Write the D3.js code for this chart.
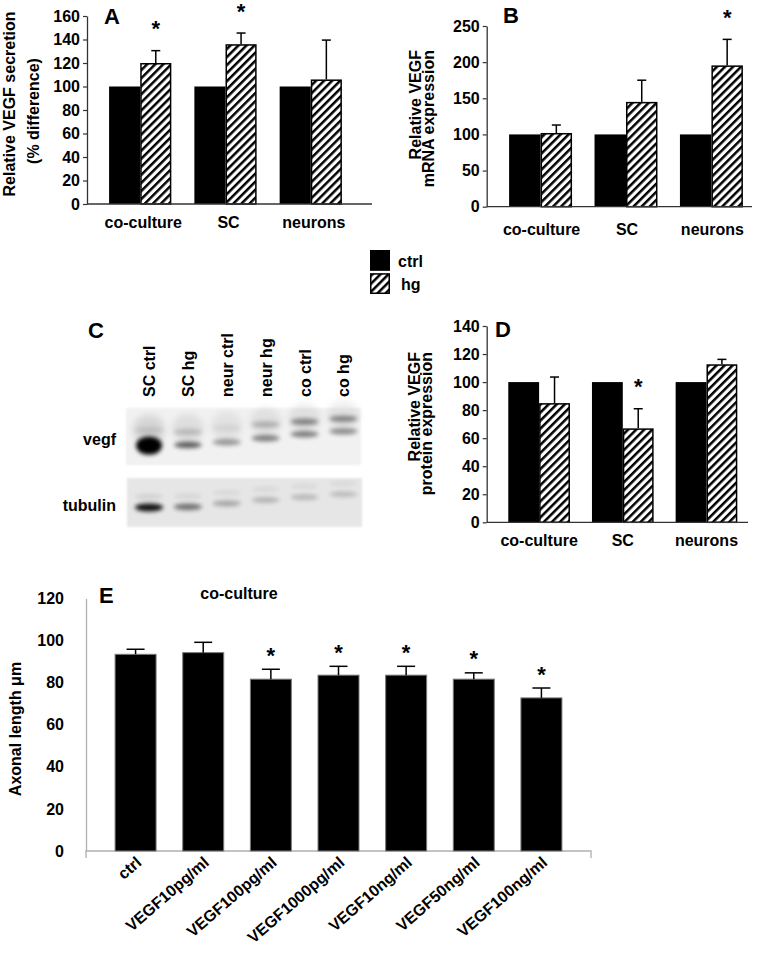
<!DOCTYPE html>
<html><head><meta charset="utf-8">
<script src="https://cdn.jsdelivr.net/npm/d3@7"></script>
<style>
body{margin:0;background:#fff;}
svg{display:block;font-family:"Liberation Sans",Arial,sans-serif;font-weight:bold;}
</style></head><body>
<svg id="fig" width="757" height="953"></svg>
<script>
// ---------- DATA ----------
const groups = ["co-culture", "SC", "neurons"];
const series = ["ctrl", "hg"];

// Panel A: Relative VEGF secretion (% difference)
const secretionCtrl = [100, 100, 100];
const secretionHg = [120, 136, 106];
const secretionHgErr = [10.5, 9.5, 33.5];
const secretionSig = [true, true, false];
const secretionTicks = [0, 20, 40, 60, 80, 100, 120, 140, 160];

// Panel B: Relative VEGF mRNA expression
const mrnaCtrl = [100, 100, 100];
const mrnaHg = [102, 145, 195.5];
const mrnaHgErr = [11, 30, 36];
const mrnaSig = [false, false, true];
const mrnaTicks = [0, 50, 100, 150, 200, 250];

// Panel C: western blot
const lanes = ["SC ctrl", "SC hg", "neur ctrl", "neur hg", "co ctrl", "co hg"];
const vegfLowerIntensity = [1.0, 0.6, 0.36, 0.46, 0.46, 0.4];
const vegfLowerRf = [0.66, 0.65, 0.6, 0.53, 0.46, 0.41];
const vegfUpperIntensity = [0.1, 0.16, 0.06, 0.22, 0.42, 0.42];
const vegfUpperRf = [0.39, 0.42, 0.35, 0.29, 0.24, 0.19];
const tubulinIntensity = [0.92, 0.5, 0.28, 0.22, 0.2, 0.18];
const tubulinRf = [0.6, 0.59, 0.52, 0.45, 0.39, 0.33];

// Panel D: Relative VEGF protein expression
const proteinCtrl = [100, 100, 100];
const proteinHg = [85, 67, 112.7];
const proteinHgErr = [18.6, 14, 3.5];
const proteinSig = [false, true, false];
const proteinTicks = [0, 20, 40, 60, 80, 100, 120, 140];

// Panel E: Axonal length (co-culture)
const treatments = ["ctrl", "VEGF10pg/ml", "VEGF100pg/ml", "VEGF1000pg/ml", "VEGF10ng/ml", "VEGF50ng/ml", "VEGF100ng/ml"];
const axonLength = [93.4, 94.2, 81.6, 83.5, 83.5, 81.6, 72.7];
const axonErr = [2.4, 4.9, 4.7, 4.2, 4.2, 3.0, 4.7];
const axonSig = [false, false, true, true, true, true, true];
const axonTicks = [0, 20, 40, 60, 80, 100, 120];

// ---------- SETUP ----------
const svg = d3.select("#fig");
const defs = svg.append("defs");
const pat = defs.append("pattern").attr("id", "hatch")
  .attr("patternUnits", "userSpaceOnUse").attr("width", 5.7).attr("height", 5.7)
  .attr("patternTransform", "rotate(45)");
pat.append("rect").attr("width", 5.7).attr("height", 5.7).attr("fill", "#fff");
pat.append("rect").attr("width", 2.5).attr("height", 5.7).attr("fill", "#000");

function addBlur(id, sd) {
  defs.append("filter").attr("id", id).attr("x", "-60%").attr("y", "-150%")
    .attr("width", "220%").attr("height", "400%")
    .append("feGaussianBlur").attr("stdDeviation", sd);
}
addBlur("blur1", 1);
addBlur("blur2", 2.3);
addBlur("blur3", 3.5);

const FONT = '"Liberation Sans", Arial, sans-serif';

function styleAxis(sel, color) {
  sel.attr("font-family", FONT).attr("font-size", 16).attr("font-weight", "bold");
  sel.select(".domain").attr("stroke", color).attr("stroke-width", 1.3);
  sel.selectAll(".tick line").attr("stroke", color).attr("stroke-width", 1.2);
  sel.selectAll(".tick text").attr("fill", "#000");
}

function panelLetter(txt, x, y) {
  svg.append("text").attr("x", x).attr("y", y).attr("font-size", 22)
    .attr("font-weight", "bold").text(txt);
}

function yTitle(lines, baselinesX, ys, anchor) {
  lines.forEach((t, i) => {
    svg.append("text")
      .attr("transform", `translate(${baselinesX[i]},${ys[i]}) rotate(-90)`)
      .attr("text-anchor", anchor).attr("font-size", 16).text(t);
  });
}

function groupedPanel(o) {
  const g = svg.append("g");
  const x = d3.scaleBand().domain(groups).range(o.xRange).paddingInner(o.pi).paddingOuter(o.po);
  const xs = d3.scaleBand().domain(series).range([0, x.bandwidth()]);
  const y = d3.scaleLinear().domain(o.yDomain).range(o.yRange);
  const rows = groups.map((c, i) => ({ c, ctrl: o.ctrl[i], hg: o.hg[i], err: o.err[i], sig: o.sig[i] }));

  g.selectAll("rect.ctrl").data(rows).join("rect").attr("class", "ctrl")
    .attr("x", d => x(d.c) + xs("ctrl")).attr("y", d => y(d.ctrl))
    .attr("width", xs.bandwidth()).attr("height", d => y(0) - y(d.ctrl)).attr("fill", "#000");

  g.selectAll("rect.hg").data(rows).join("rect").attr("class", "hg")
    .attr("x", d => x(d.c) + xs("hg") + 0.75).attr("y", d => y(d.hg) + 0.75)
    .attr("width", xs.bandwidth() - 1.5).attr("height", d => y(0) - y(d.hg) - 0.75)
    .attr("fill", "url(#hatch)").attr("stroke", "#000").attr("stroke-width", 1.5);

  const cx = d => x(d.c) + xs("hg") + xs.bandwidth() / 2;
  g.selectAll("line.err").data(rows).join("line").attr("class", "err")
    .attr("x1", cx).attr("x2", cx).attr("y1", d => y(d.hg)).attr("y2", d => y(d.hg + d.err))
    .attr("stroke", "#000").attr("stroke-width", 1.5);
  g.selectAll("line.cap").data(rows).join("line").attr("class", "cap")
    .attr("x1", d => cx(d) - 4.5).attr("x2", d => cx(d) + 4.5)
    .attr("y1", d => y(d.hg + d.err)).attr("y2", d => y(d.hg + d.err))
    .attr("stroke", "#000").attr("stroke-width", 1.5);
  g.selectAll("text.ast").data(rows.filter(d => d.sig)).join("text").attr("class", "ast")
    .attr("x", cx).attr("y", d => y(d.hg + d.err) - 14.5)
    .attr("text-anchor", "middle").attr("font-size", 22).text("*");

  const ya = g.append("g").attr("transform", `translate(${o.axisX},0)`)
    .call(d3.axisLeft(y).tickValues(o.ticks).tickSize(4).tickSizeOuter(0).tickPadding(3));
  styleAxis(ya, "#333");

  const xa = g.append("g").attr("transform", `translate(0,${y(0)})`)
    .call(d3.axisBottom(x).tickSize(0).tickPadding(o.labelPad));
  styleAxis(xa, "#333");
  xa.select(".domain").attr("d", `M${o.axisX},0H${o.axisEnd}`);
  xa.selectAll(".tick text").attr("dx", o.labelDx || 0);
}

// ---------- PANEL A ----------
groupedPanel({
  xRange: [98, 353], pi: 0.27, po: 0.13, yDomain: [0, 160], yRange: [204, 16],
  ctrl: secretionCtrl, hg: secretionHg, err: secretionHgErr, sig: secretionSig,
  ticks: secretionTicks, axisX: 87, axisEnd: 372, labelPad: 12.5, labelDx: 3
});
panelLetter("A", 104, 23.5);
yTitle(["Relative VEGF secretion", "(% difference)"], [15, 39], [104, 111], "middle");

// ---------- PANEL B ----------
groupedPanel({
  xRange: [498, 754], pi: 0.263, po: 0.13, yDomain: [0, 250], yRange: [206.7, 26],
  ctrl: mrnaCtrl, hg: mrnaHg, err: mrnaHgErr, sig: mrnaSig,
  ticks: mrnaTicks, axisX: 486.7, axisEnd: 752, labelPad: 17, labelDx: 1
});
panelLetter("B", 503, 23);
yTitle(["Relative VEGF", "mRNA expression"], [421, 434], [50, 50], "end");

// ---------- LEGEND ----------
const leg = svg.append("g");
const legendItems = series.map(s => ({ s }));
const legY = d3.scaleBand().domain(series).range([250, 294]).paddingInner(0.1);
leg.selectAll("rect").data(legendItems).join("rect")
  .attr("x", d => d.s === "ctrl" ? 370 : 370.75)
  .attr("y", d => legY(d.s) + (d.s === "ctrl" ? 0 : 0.75))
  .attr("width", d => d.s === "ctrl" ? 20 : 18.5)
  .attr("height", d => legY.bandwidth() - (d.s === "ctrl" ? 0 : 1.5))
  .attr("fill", d => d.s === "ctrl" ? "#000" : "url(#hatch)")
  .attr("stroke", "#000").attr("stroke-width", d => d.s === "ctrl" ? 0 : 1.5);
leg.selectAll("text").data(legendItems).join("text")
  .attr("x", d => d.s === "ctrl" ? 398 : 401)
  .attr("y", d => legY(d.s) + legY.bandwidth() - 4)
  .attr("font-size", 16).text(d => d.s);

// ---------- PANEL C (blot) ----------
panelLetter("C", 88, 338);
const blot = svg.append("g");
const lane = d3.scaleBand().domain(lanes).range([129.6, 362.8]);
const vegfBox = { x0: 126, x1: 361, y0: 408, y1: 465 };
const tubBox = { x0: 127, x1: 362, y0: 478, y1: 527 };
const rfV = d3.scaleLinear().domain([0, 1]).range([vegfBox.y0, vegfBox.y1]);
const rfT = d3.scaleLinear().domain([0, 1]).range([tubBox.y0, tubBox.y1]);

blot.append("rect").attr("x", vegfBox.x0).attr("y", vegfBox.y0)
  .attr("width", vegfBox.x1 - vegfBox.x0).attr("height", vegfBox.y1 - vegfBox.y0)
  .attr("fill", "#f1f1f1").attr("filter", "url(#blur1)");
blot.append("rect").attr("x", tubBox.x0).attr("y", tubBox.y0)
  .attr("width", tubBox.x1 - tubBox.x0).attr("height", tubBox.y1 - tubBox.y0)
  .attr("fill", "#e6e6e6").attr("filter", "url(#blur1)");

const lc = l => lane(l) + lane.bandwidth() / 2;
// lane smear
blot.selectAll("ellipse.smear").data(lanes).join("ellipse").attr("class", "smear")
  .attr("cx", lc).attr("cy", (d, i) => rfV(vegfLowerRf[i] - 0.28))
  .attr("rx", 16).attr("ry", 15)
  .attr("fill", "#000").attr("opacity", (d, i) => 0.03 + vegfLowerIntensity[i] * 0.08)
  .attr("filter", "url(#blur3)");
// upper vegf bands
blot.selectAll("ellipse.vu").data(lanes).join("ellipse").attr("class", "vu")
  .attr("cx", lc).attr("cy", (d, i) => rfV(vegfUpperRf[i]))
  .attr("rx", 14).attr("ry", 3.2)
  .attr("fill", "#000").attr("opacity", (d, i) => vegfUpperIntensity[i])
  .attr("filter", "url(#blur2)");
// lower vegf bands
blot.selectAll("ellipse.vl").data(lanes).join("ellipse").attr("class", "vl")
  .attr("cx", lc).attr("cy", (d, i) => rfV(vegfLowerRf[i]))
  .attr("rx", (d, i) => 13 + 2 * (1 - vegfLowerIntensity[i]))
  .attr("ry", (d, i) => 3.2 + 6 * Math.max(0, vegfLowerIntensity[i] - 0.7) / 0.3)
  .attr("fill", "#000").attr("opacity", (d, i) => vegfLowerIntensity[i])
  .attr("filter", "url(#blur2)");
// tubulin faint upper bands
blot.selectAll("ellipse.tu").data(lanes).join("ellipse").attr("class", "tu")
  .attr("cx", lc).attr("cy", (d, i) => rfT(tubulinRf[i] - 0.22))
  .attr("rx", 14).attr("ry", 2.5)
  .attr("fill", "#000").attr("opacity", (d, i) => 0.05 + tubulinIntensity[i] * 0.05)
  .attr("filter", "url(#blur2)");
// tubulin bands
blot.selectAll("ellipse.tb").data(lanes).join("ellipse").attr("class", "tb")
  .attr("cx", lc).attr("cy", (d, i) => rfT(tubulinRf[i]))
  .attr("rx", 14).attr("ry", (d, i) => 2.6 + tubulinIntensity[i] * 1.5)
  .attr("fill", "#000").attr("opacity", (d, i) => tubulinIntensity[i])
  .attr("filter", "url(#blur2)");

blot.selectAll("text.lane").data(lanes).join("text").attr("class", "lane")
  .attr("transform", d => `translate(${lc(d) + 6},397) rotate(-90)`)
  .attr("font-size", 16).text(d => d);
blot.append("text").attr("x", 116).attr("y", 445).attr("text-anchor", "end")
  .attr("font-size", 16).text("vegf");
blot.append("text").attr("x", 116).attr("y", 511).attr("text-anchor", "end")
  .attr("font-size", 16).text("tubulin");

// ---------- PANEL D ----------
groupedPanel({
  xRange: [497.4, 748.2], pi: 0.263, po: 0.13, yDomain: [0, 140], yRange: [522.3, 326],
  ctrl: proteinCtrl, hg: proteinHg, err: proteinHgErr, sig: proteinSig,
  ticks: proteinTicks, axisX: 486.7, axisEnd: 748, labelPad: 12.5, labelDx: 0
});
panelLetter("D", 495, 337);
yTitle(["Relative VEGF", "protein expression"], [420, 432], [352, 352], "end");

// ---------- PANEL E ----------
(function () {
  const g = svg.append("g");
  const x = d3.scaleBand().domain(treatments).range([86, 591]).paddingInner(0.394).paddingOuter(0.43);
  const y = d3.scaleLinear().domain([0, 120]).range([851, 598.3]);
  const rows = treatments.map((t, i) => ({ t, v: axonLength[i], e: axonErr[i], s: axonSig[i] }));
  const cx = d => x(d.t) + x.bandwidth() / 2;

  const ya = g.append("g").attr("transform", "translate(86,0)")
    .call(d3.axisLeft(y).tickValues(axonTicks).tickSize(0).tickPadding(22));
  styleAxis(ya, "#b0b0b0");

  const xa = g.append("g").attr("transform", `translate(0,${y(0)})`)
    .call(d3.axisBottom(x).tickSize(0).tickPadding(0));
  styleAxis(xa, "#b0b0b0");
  xa.select(".domain").attr("d", "M86,7V0H591V7");
  xa.selectAll(".tick text")
    .attr("x", 7).attr("y", 13).attr("dy", 0)
    .attr("text-anchor", "end")
    .attr("transform", "rotate(-41 7 13)");

  g.selectAll("rect.bar").data(rows).join("rect").attr("class", "bar")
    .attr("x", d => x(d.t)).attr("y", d => y(d.v))
    .attr("width", x.bandwidth()).attr("height", d => y(0) - y(d.v))
    .attr("fill", "#000").attr("stroke", "#7a7a7a").attr("stroke-width", 1);
  g.selectAll("line.err").data(rows).join("line").attr("class", "err")
    .attr("x1", cx).attr("x2", cx).attr("y1", d => y(d.v)).attr("y2", d => y(d.v + d.e))
    .attr("stroke", "#000").attr("stroke-width", 1.5);
  g.selectAll("line.cap").data(rows).join("line").attr("class", "cap")
    .attr("x1", d => cx(d) - 9).attr("x2", d => cx(d) + 9)
    .attr("y1", d => y(d.v + d.e)).attr("y2", d => y(d.v + d.e))
    .attr("stroke", "#000").attr("stroke-width", 1.5);
  g.selectAll("text.ast").data(rows.filter(d => d.s)).join("text").attr("class", "ast")
    .attr("x", cx).attr("y", d => y(d.v + d.e) - 6.5)
    .attr("text-anchor", "middle").attr("font-size", 22).text("*");

  g.append("text").attr("x", 239).attr("y", 599).attr("text-anchor", "middle")
    .attr("font-size", 16).text("co-culture");
})();
panelLetter("E", 99, 603);
yTitle(["Axonal length \u03bcm"], [21], [729], "middle");
</script>
</body></html>
